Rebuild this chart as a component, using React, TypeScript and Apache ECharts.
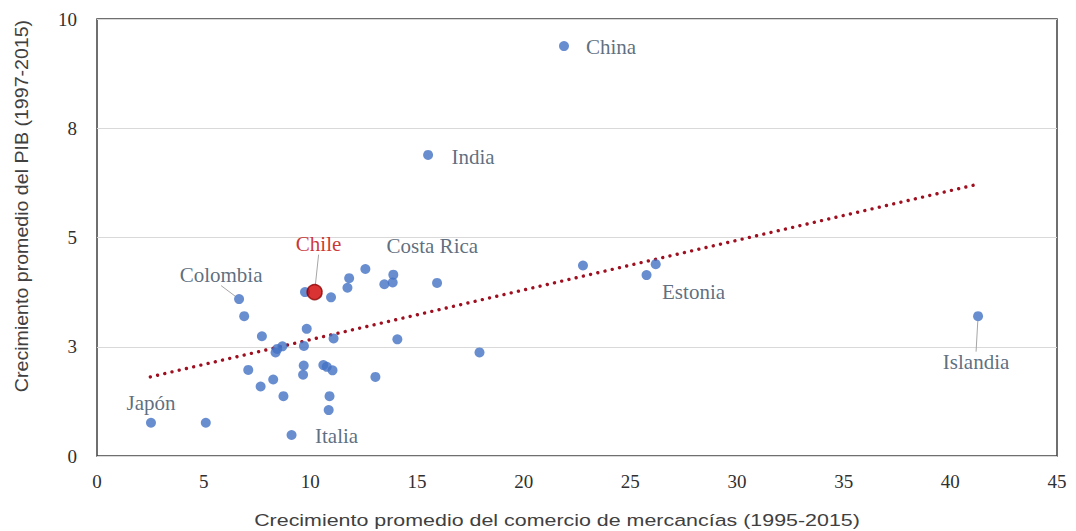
import React, { useEffect, useRef } from "react";
import * as echarts from "echarts";

// Country names (empty string = unlabeled point)
const names: string[] = [
  "Japón", "", "Italia", "Colombia", "", "", "", "", "", "", "", "", "", "", "", "",
  "", "", "", "", "", "", "", "", "", "", "", "", "", "Costa Rica", "", "", "",
  "", "", "India", "China", "", "Estonia", "", "Islandia", "Chile",
];
// Average growth of merchandise trade (1995-2015)
const tradeGrowth: number[] = [
  2.53, 5.10, 9.12, 6.66, 6.90, 7.73, 7.09, 7.67, 8.26, 8.74, 8.37, 8.69, 8.45, 9.70, 9.83, 9.75,
  10.97, 11.09, 9.69, 9.66, 10.61, 10.77, 11.04, 10.90, 10.86, 11.74, 11.82, 12.58, 13.47, 13.89, 13.86, 14.08, 13.05,
  15.94, 17.93, 15.52, 21.89, 22.78, 25.76, 26.19, 41.30, 10.20,
];
// Average GDP growth (1997-2015)
const gdpGrowth: number[] = [
  0.76, 0.76, 0.48, 3.59, 3.20, 2.74, 1.97, 1.59, 1.75, 1.37, 2.37, 2.51, 2.45, 2.52, 2.91, 3.75,
  3.63, 2.69, 2.07, 1.86, 2.08, 2.04, 1.96, 1.37, 1.05, 3.85, 4.07, 4.28, 3.93, 4.15, 3.97, 2.67, 1.81,
  3.96, 2.37, 6.89, 9.38, 4.36, 4.14, 4.39, 3.20, 3.75,
];
// Linear trend line endpoints
const trendX: number[] = [2.5, 41.3];
const trendY: number[] = [1.81, 6.22];

const xTicks = { min: 0, max: 45, interval: 5 };
const yTicks = { min: 0, max: 10, interval: 2.5 };

const xTitle = "Crecimiento promedio del comercio de mercancías (1995-2015)";
const yTitle = "Crecimiento promedio del PIB (1997-2015)";

// label offsets (px) from point centre
const labelOffsets: Record<string, [number, number]> = {
  "Japón": [0, -20],
  "Italia": [45, 1],
  "Colombia": [-18, -24],
  "Chile": [4, -48],
  "Costa Rica": [39, -29],
  "India": [45, 2],
  "China": [47, 1],
  "Estonia": [47, 17],
  "Islandia": [-2, 46],
};
const leaders = new Set(["Colombia", "Chile", "Islandia"]);

export default function App() {
  const ref = useRef<HTMLDivElement>(null);
  useEffect(() => {
    if (!ref.current) return;
    const chart = echarts.init(ref.current, null, { renderer: "svg" });
    const serif = "Liberation Serif";
    const labelColor = "#34495E";
    const tickRich = { t: { fontFamily: serif, fontSize: 19, color: "#303030" } };

    const data = tradeGrowth.map((x, i) => {
      const name = names[i];
      const isChile = name === "Chile";
      return {
        name,
        value: [x, gdpGrowth[i]],
        symbolSize: isChile ? 15 : 10,
        itemStyle: isChile
          ? { color: "#D00000", borderColor: "#8B0000", borderWidth: 1.5 }
          : { color: "#4472C4" },
        label: {
          show: name !== "",
          color: isChile ? "#C00000" : labelColor,
        },
        labelLine: { show: leaders.has(name) },
      };
    });

    chart.setOption({
      animation: false,
      textStyle: { fontFamily: serif },
      grid: {
        left: 97,
        top: 19,
        right: 19,
        bottom: 75,
        show: true,
        borderColor: "#404040",
        borderWidth: 1.5,
        backgroundColor: "transparent",
      },
      xAxis: {
        type: "value",
        min: xTicks.min,
        max: xTicks.max,
        interval: xTicks.interval,
        axisLine: { show: false },
        axisTick: { show: false },
        splitLine: { show: false },
        axisLabel: {
          fontFamily: serif,
          fontSize: 19,
          color: "#303030",
          margin: 16,
          formatter: (v: number) => "{t|" + v + "}",
          rich: tickRich,
        },
      },
      yAxis: {
        type: "value",
        min: yTicks.min,
        max: yTicks.max,
        interval: yTicks.interval,
        axisLine: { show: false },
        axisTick: { show: false },
        splitLine: { show: true, lineStyle: { color: "#D9D9D9", width: 1 } },
        axisLabel: {
          fontFamily: serif,
          fontSize: 19,
          color: "#303030",
          margin: 20,
          formatter: (v: number) => "{t|" + Math.round(v) + "}",
          rich: tickRich,
        },
      },
      graphic: [
        {
          type: "text",
          x: 557,
          y: 520,
          scaleX: 1.26,
          style: {
            text: xTitle,
            font: '17px "Liberation Sans", Arial, sans-serif',
            fill: "#404040",
            align: "center",
            verticalAlign: "middle",
          },
        },
        {
          type: "text",
          x: 22,
          y: 206,
          rotation: Math.PI / 2,
          scaleX: 1.12,
          style: {
            text: yTitle,
            font: '17.5px "Liberation Sans", Arial, sans-serif',
            fill: "#404040",
            align: "center",
            verticalAlign: "middle",
          },
        },
      ],
      series: [
        {
          type: "line",
          data: trendX.map((x, i) => [x, trendY[i]]),
          showSymbol: false,
          symbol: "none",
          lineStyle: { color: "#9E1020", width: 3.4, type: [0.01, 7.4], cap: "round" },
          z: 1,
          silent: true,
        },
        {
          type: "scatter",
          data,
          z: 3,
          label: {
            position: "inside",
            formatter: "{b}",
            fontFamily: serif,
            fontSize: 21,
          },
          labelLine: {
            lineStyle: { color: "#A6A6A6", width: 1 },
          },
          labelLayout: (params: any) => {
            const n = names[params.dataIndex];
            const o = labelOffsets[n];
            return o ? { dx: o[0], dy: o[1] } : {};
          },
        },
      ],
    });
    return () => chart.dispose();
  }, []);
  return (
    <div
      ref={ref}
      style={{ position: "absolute", left: 0, top: 0, width: 1076, height: 531, background: "#fff" }}
    />
  );
}
